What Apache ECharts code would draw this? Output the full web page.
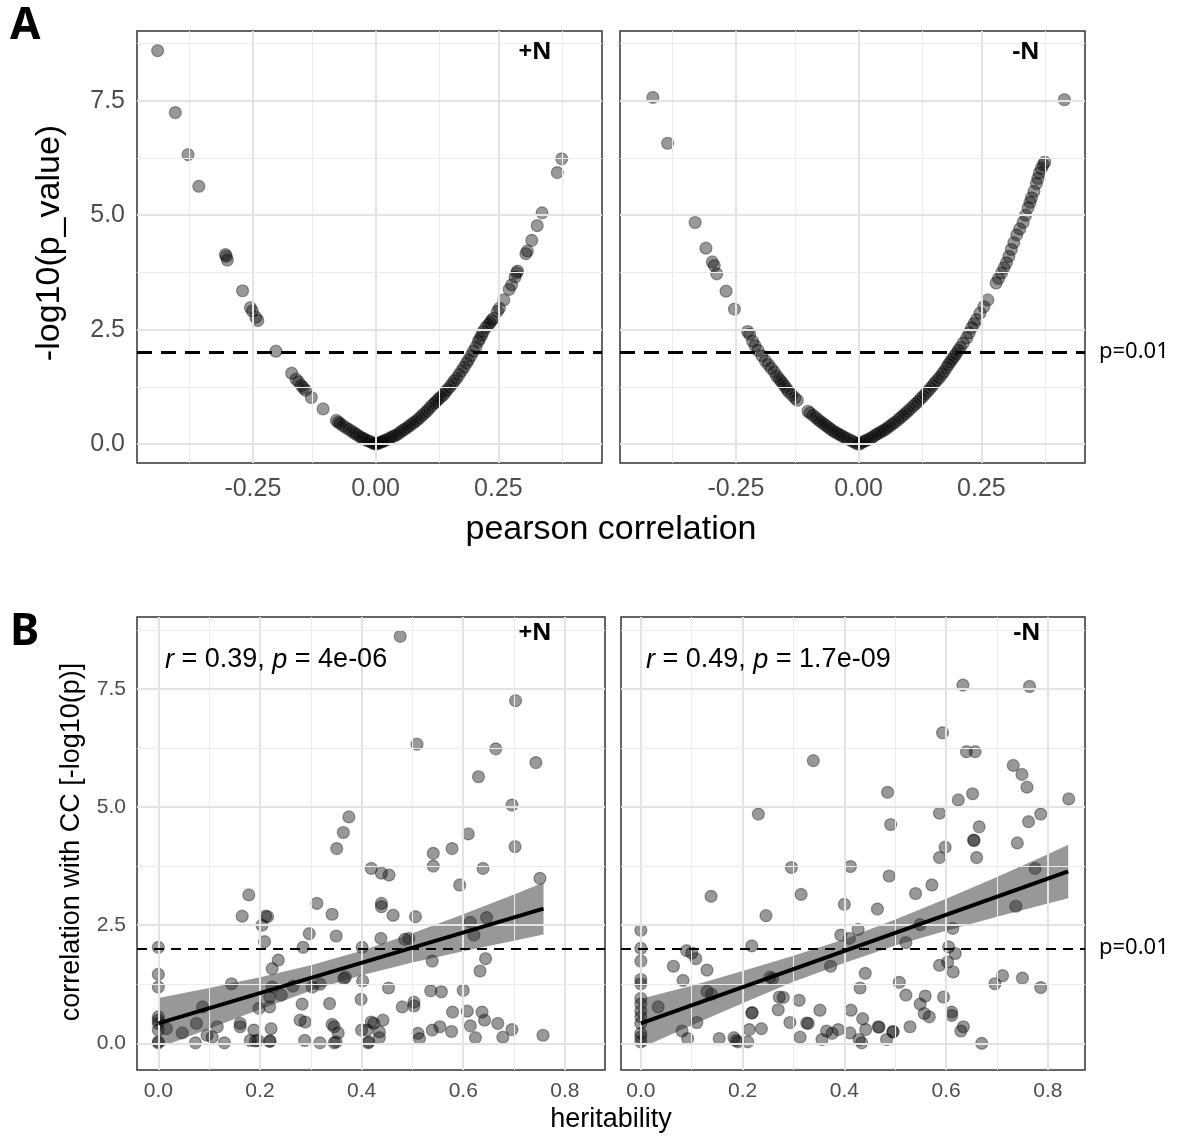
<!DOCTYPE html>
<html><head><meta charset="utf-8">
<script src="https://cdn.jsdelivr.net/npm/echarts@6/dist/echarts.min.js"></script>
<style>html,body{margin:0;padding:0;background:#fff}#c{width:1181px;height:1137px}</style>
</head><body><div id="c"></div>
<script>
// Panel A (+N): [pearson correlation, -log10(p)]
const aPlusN = [[-0.444,8.59],[-0.408,7.24],[-0.382,6.32],[-0.360,5.63],[-0.306,4.14],[-0.304,4.10],[-0.302,4.02],[-0.271,3.35],[-0.255,2.98],[-0.251,2.91],[-0.244,2.77],[-0.240,2.70],[-0.203,2.03],[-0.171,1.55],[-0.162,1.42],[-0.157,1.36],[-0.151,1.28],[-0.147,1.23],[-0.143,1.18],[-0.131,1.02],[-0.107,0.77],[-0.080,0.52],[-0.076,0.48],[-0.072,0.45],[-0.066,0.40],[-0.060,0.36],[-0.054,0.32],[-0.048,0.28],[-0.043,0.24],[-0.038,0.21],[-0.033,0.17],[-0.028,0.14],[-0.024,0.12],[-0.019,0.09],[-0.014,0.07],[-0.010,0.05],[-0.005,0.02],[-0.002,0.01],
[0.002,0.01],[0.005,0.02],[0.009,0.04],[0.013,0.05],[0.016,0.07],[0.020,0.09],[0.025,0.11],[0.030,0.14],[0.035,0.17],[0.040,0.19],[0.045,0.22],[0.050,0.26],[0.055,0.30],[0.060,0.33],[0.065,0.37],[0.070,0.41],[0.075,0.45],[0.080,0.49],[0.085,0.53],[0.090,0.58],[0.095,0.63],[0.100,0.68],[0.105,0.73],[0.110,0.79],[0.115,0.85],[0.120,0.90],[0.124,0.94],[0.128,0.99],[0.133,1.03],[0.138,1.08],[0.142,1.14],[0.146,1.19],[0.151,1.25],[0.156,1.32],[0.160,1.38],[0.165,1.44],[0.170,1.52],[0.175,1.60],[0.180,1.68],[0.185,1.77],[0.189,1.84],[0.194,1.93],[0.199,2.03],[0.204,2.12],[0.209,2.24],[0.212,2.30],[0.216,2.38],[0.219,2.46],[0.224,2.54],[0.229,2.60],[0.233,2.65],[0.236,2.70],[0.240,2.75],[0.248,2.90],[0.252,2.97],[0.261,3.15],[0.272,3.38],[0.277,3.48],[0.284,3.65],[0.287,3.74],[0.289,3.78],[0.306,4.16],[0.309,4.22],[0.318,4.45],[0.329,4.77],[0.339,5.05],[0.370,5.93],[0.379,6.23]];
// Panel A (-N)
const aMinusN = [[-0.419,7.57],[-0.389,6.57],[-0.333,4.84],[-0.311,4.28],[-0.298,3.98],[-0.294,3.90],[-0.289,3.72],[-0.270,3.34],[-0.253,2.95],[-0.226,2.46],[-0.222,2.40],[-0.216,2.25],[-0.211,2.15],[-0.205,2.05],[-0.197,1.93],[-0.190,1.82],[-0.184,1.74],[-0.178,1.66],[-0.172,1.58],[-0.167,1.49],[-0.162,1.43],[-0.158,1.37],[-0.154,1.32],[-0.150,1.26],[-0.146,1.20],[-0.142,1.14],[-0.136,1.08],[-0.130,1.01],[-0.125,0.96],[-0.103,0.72],[-0.099,0.68],[-0.093,0.63],[-0.087,0.58],[-0.082,0.53],[-0.077,0.49],[-0.072,0.45],[-0.067,0.41],[-0.062,0.37],[-0.057,0.33],[-0.052,0.29],[-0.047,0.26],[-0.042,0.23],[-0.037,0.20],[-0.032,0.17],[-0.027,0.14],[-0.021,0.11],[-0.015,0.08],[-0.010,0.05],[-0.005,0.02],[0.000,0.00],
[0.004,0.02],[0.009,0.05],[0.014,0.08],[0.019,0.10],[0.024,0.13],[0.029,0.16],[0.034,0.20],[0.039,0.23],[0.044,0.26],[0.049,0.29],[0.054,0.32],[0.059,0.36],[0.064,0.40],[0.069,0.44],[0.074,0.48],[0.080,0.53],[0.085,0.58],[0.090,0.62],[0.095,0.67],[0.100,0.72],[0.105,0.77],[0.111,0.83],[0.116,0.88],[0.121,0.93],[0.126,0.99],[0.131,1.04],[0.136,1.10],[0.141,1.16],[0.146,1.22],[0.151,1.28],[0.155,1.34],[0.160,1.40],[0.165,1.46],[0.170,1.53],[0.174,1.59],[0.179,1.67],[0.183,1.74],[0.187,1.80],[0.191,1.86],[0.195,1.92],[0.199,1.98],[0.203,2.05],[0.207,2.11],[0.213,2.21],[0.220,2.32],[0.225,2.43],[0.230,2.54],[0.235,2.63],[0.240,2.72],[0.247,2.86],[0.255,3.00],[0.263,3.15],[0.280,3.52],[0.285,3.62],[0.291,3.74],[0.296,3.85],[0.301,3.96],[0.306,4.10],[0.311,4.25],[0.316,4.40],[0.322,4.57],[0.328,4.70],[0.335,4.84],[0.340,5.00],[0.345,5.16],[0.349,5.28],[0.352,5.38],[0.357,5.52],[0.362,5.69],[0.365,5.80],[0.368,5.92],[0.372,6.02],[0.376,6.10],[0.379,6.16],[0.419,7.52]];
// Panel B (+N): [heritability, -log10(p)]
const bPlusN = [[0.476,8.61],[0.703,7.25],[0.509,6.33],[0.664,6.23],[0.743,5.94],[0.630,5.64],[0.696,5.04],[0.375,4.79],[0.364,4.46],[0.351,4.12],[0.610,4.43],[0.578,4.12],[0.541,4.02],[0.702,4.16],
[0.541,3.75],[0.639,3.70],[0.419,3.70],[0.439,3.60],[0.454,3.56],[0.593,3.35],[0.751,3.49],[0.178,3.14],[0.312,2.96],[0.439,2.96],[0.439,2.89],[0.165,2.69],[0.211,2.69],[0.215,2.68],[0.342,2.73],[0.462,2.71],[0.506,2.68],[0.646,2.66],[0.614,2.56],[0.204,2.50],[0.297,2.32],[0.350,2.27],[0.621,2.29],[0.438,2.22],[0.485,2.20],[0.493,2.22],[0.209,2.15],[0.285,2.03],[0.401,2.03],[0.000,2.03],[0.644,1.79],[0.236,1.76],[0.539,1.74],[0.224,1.58],[0.633,1.53],[0.000,1.46],[0.368,1.40],[0.365,1.37],[0.402,1.32],[0.144,1.26],[0.318,1.25],[0.265,1.21],[0.303,1.19],[0.224,1.19],[0.000,1.19],[0.453,1.17],[0.600,1.12],[0.536,1.11],[0.557,1.09],[0.242,1.02],[0.219,0.98],[0.399,0.93],[0.503,0.87],[0.337,0.84],[0.283,0.83],[0.503,0.79],[0.087,0.77],[0.219,0.77],[0.480,0.77],[0.198,0.74],[0.608,0.68],[0.579,0.66],[0.637,0.66],[0.000,0.56],[0.000,0.49],[0.279,0.49],[0.442,0.49],[0.642,0.49],[0.289,0.45],[0.419,0.45],[0.075,0.42],[0.000,0.42],[0.161,0.42],[0.424,0.42],[0.668,0.42],[0.342,0.40],[0.614,0.37],[0.116,0.35],[0.161,0.35],[0.346,0.35],[0.554,0.35],[0.016,0.31],[0.222,0.31],[0.696,0.29],[0.000,0.28],[0.188,0.28],[0.400,0.28],[0.411,0.28],[0.539,0.28],[0.577,0.25],[0.435,0.24],[0.047,0.22],[0.354,0.22],[0.511,0.21],[0.096,0.17],[0.757,0.17],[0.106,0.13],[0.678,0.13],[0.435,0.12],[0.624,0.12],[0.514,0.10],[0.181,0.06],[0.196,0.06],[0.288,0.06],[0.191,0.05],[0.220,0.05],[0.219,0.04],[0.000,0.03],[0.350,0.03],[0.414,0.03],[0.000,0.01],[0.130,0.01],[0.318,0.01],[0.073,0.01],[0.346,0.01],[0.413,0.01]];
// Panel B (-N)
const bMinusN = [[0.633,7.58],[0.764,7.55],[0.593,6.57],[0.339,5.98],[0.640,6.17],[0.657,6.17],[0.732,5.88],[0.749,5.69],[0.759,5.42],[0.485,5.31],[0.624,5.15],[0.652,5.28],[0.841,5.17],[0.231,4.85],[0.587,4.87],[0.491,4.63],[0.786,4.85],[0.762,4.69],[0.665,4.58],[0.654,4.30],[0.655,4.29],[0.740,4.24],[0.598,4.15],[0.587,3.93],[0.660,3.93],[0.296,3.72],[0.412,3.74],[0.775,3.70],[0.488,3.54],[0.138,3.11],[0.315,3.15],[0.540,3.17],[0.572,3.35],[0.400,2.94],[0.465,2.84],[0.737,2.90],[0.246,2.70],
[0.000,2.39],[0.000,2.01],[0.000,1.74],[0.000,1.35],[0.000,1.26],[0.000,0.95],[0.000,0.83],[0.000,0.68],[0.000,0.56],[0.000,0.42],[0.000,0.21],[0.000,0.13],[0.000,0.03],[0.064,1.63],[0.083,1.33],[0.090,1.96],[0.100,1.91],[0.108,1.79],[0.130,1.55],[0.130,1.10],[0.139,1.04],[0.034,0.77],[0.110,0.44],[0.081,0.26],[0.092,0.10],[0.154,0.10],[0.183,0.12],[0.191,0.03],[0.187,0.06],[0.210,0.03],[0.213,0.29],[0.237,0.31],[0.218,0.64],[0.219,0.65],[0.218,2.06],[0.254,1.40],[0.259,1.37],[0.272,0.98],[0.280,0.97],[0.270,0.71],[0.293,0.44],[0.311,0.91],[0.313,0.13],[0.326,0.43],[0.329,0.42],[0.352,0.70],[0.356,0.08],[0.365,0.26],[0.376,0.21],[0.388,0.29],[0.373,1.63],[0.393,2.29],[0.410,2.22],[0.427,2.41],[0.413,0.70],[0.411,0.22],[0.429,0.08],[0.436,0.52],[0.434,0.01],[0.442,0.29],[0.431,1.17],[0.441,1.48],[0.467,0.35],[0.468,0.34],[0.495,0.24],[0.496,0.25],[0.483,0.08],[0.508,1.29],[0.521,1.02],[0.521,2.13],[0.529,0.35],[0.549,2.51],[0.549,0.83],[0.559,1.00],[0.557,0.63],[0.567,0.56],[0.587,1.65],[0.603,1.72],[0.595,0.98],[0.605,2.04],[0.618,1.90],[0.613,2.43],[0.614,1.51],[0.611,0.66],[0.611,0.59],[0.629,0.26],[0.634,0.35],[0.670,0.00],[0.696,1.26],[0.711,1.43],[0.750,1.38],[0.786,1.18]];

// Linear fits with confidence band
const fitPlusLine = [[0,0.42],[0.758,2.85]];
const fitPlusX  = [0, 0.1, 0.2, 0.3, 0.4, 0.5, 0.6, 0.7, 0.758];
const fitPlusLo = [-0.10, 0.31, 0.72, 1.11, 1.44, 1.71, 1.95, 2.17, 2.30];
const fitPlusHi = [0.96, 1.17, 1.40, 1.65, 1.96, 2.33, 2.73, 3.15, 3.40];
const fitMinusLine = [[0,0.42],[0.84,3.64]];
const fitMinusX  = [0, 0.1, 0.2, 0.3, 0.4, 0.5, 0.6, 0.7, 0.8, 0.84];
const fitMinusLo = [-0.10, 0.38, 0.85, 1.30, 1.70, 2.07, 2.38, 2.68, 2.96, 3.07];
const fitMinusHi = [0.94, 1.22, 1.53, 1.85, 2.20, 2.62, 3.06, 3.52, 4.00, 4.20];

const yTicks = [0, 2.5, 5, 7.5];
const yMinor = [1.25, 3.75, 6.25, 8.75];
const aXTicks = [-0.25, 0, 0.25];
const aXMinor = [-0.375, -0.125, 0.125, 0.375];
const bXTicks = [0, 0.2, 0.4, 0.6, 0.8];
const bXMinor = [0.1, 0.3, 0.5, 0.7];
const pLine = 2; // -log10(0.01)

const chart = echarts.init(document.getElementById('c'), null, {renderer:'canvas'});
const FONT = 'Liberation Sans';
const grids = [
  {left:137, top:31, width:465, height:432},
  {left:620, top:31, width:465, height:432},
  {left:137, top:617, width:468, height:453},
  {left:621, top:617, width:464, height:453}
].map(g => Object.assign(g, {show:true, borderColor:'#333', borderWidth:1.5, backgroundColor:'#fff'}));

function xAx(i, min, max, ticks, dec, fs, margin, tlen) {
  return {type:'value', gridIndex:i, min:min, max:max, axisLine:{show:false}, splitLine:{show:false},
    axisTick:{show:true, customValues:ticks, length:tlen, lineStyle:{color:'#333', width:1.5}},
    axisLabel:{show:true, customValues:ticks, formatter:v=>Number(v).toFixed(dec), fontSize:fs, color:'#4d4d4d', fontFamily:FONT, margin:margin}};
}
function yAx(i, min, max, show, fs, margin, tlen) {
  return {type:'value', gridIndex:i, min:min, max:max, axisLine:{show:false}, splitLine:{show:false},
    axisTick:{show:show, customValues:yTicks, length:tlen, lineStyle:{color:'#333', width:1.5}},
    axisLabel:{show:show, customValues:yTicks, formatter:v=>Number(v).toFixed(1), fontSize:fs, color:'#4d4d4d', fontFamily:FONT, margin:margin}};
}
const xAxes = [
  xAx(0, -0.486, 0.461, aXTicks, 2, 25, 14, 7),
  xAx(1, -0.486, 0.461, aXTicks, 2, 25, 14, 7),
  xAx(2, -0.042, 0.879, bXTicks, 1, 21, 11, 6),
  xAx(3, -0.039, 0.873, bXTicks, 1, 21, 11, 6)
];
const yAxes = [
  yAx(0, -0.41, 9.02, true, 25, 12, 7),
  yAx(1, -0.41, 9.02, false, 25, 12, 7),
  yAx(2, -0.565, 9.02, true, 21, 11, 6),
  yAx(3, -0.565, 9.02, false, 21, 11, 6)
];

function gridLines(i, xMaj, xMin) {
  const major = {color:'#e3e3e3', width:2, type:'solid'};
  const minor = {color:'#ebebeb', width:1, type:'solid'};
  const d = [];
  xMaj.forEach(v => d.push({xAxis:v, lineStyle:major}));
  xMin.forEach(v => d.push({xAxis:v, lineStyle:minor}));
  yTicks.forEach(v => d.push({yAxis:v, lineStyle:major}));
  yMinor.forEach(v => d.push({yAxis:v, lineStyle:minor}));
  return {type:'line', xAxisIndex:i, yAxisIndex:i, data:[], z:1, silent:true,
    markLine:{silent:true, symbol:['none','none'], label:{show:false}, animation:false, data:d}};
}
function hline(i, w, dash) {
  return {type:'line', xAxisIndex:i, yAxisIndex:i, data:[], z:10, silent:true,
    markLine:{silent:true, symbol:['none','none'], label:{show:false}, animation:false,
      data:[{yAxis:pLine, lineStyle:{color:'#000', width:w, type:dash}}]}};
}
function pts(i, data, size) {
  return {type:'scatter', xAxisIndex:i, yAxisIndex:i, data:data, symbolSize:size, z:3, silent:true,
    itemStyle:{color:'rgba(0,0,0,0.5)', borderColor:'rgba(0,0,0,0.45)', borderWidth:1.2}, animation:false};
}
function band(i, xs, lo, hi) {
  return {type:'custom', xAxisIndex:i, yAxisIndex:i, data:[[xs[0], lo[0]]], z:4, silent:true, animation:false,
    renderItem:(params, api) => {
      const p = [];
      for (let k = 0; k < xs.length; k++) p.push(api.coord([xs[k], hi[k]]));
      for (let k = xs.length - 1; k >= 0; k--) p.push(api.coord([xs[k], lo[k]]));
      return {type:'polygon', shape:{points:p}, style:{fill:'rgba(40,40,40,0.48)', stroke:null}};
    }};
}
function fit(i, data) {
  return {type:'line', xAxisIndex:i, yAxisIndex:i, data:data, symbol:'none', z:5, silent:true, animation:false,
    lineStyle:{color:'#000', width:4}};
}

const series = [
  gridLines(0, aXTicks, aXMinor), gridLines(1, aXTicks, aXMinor),
  gridLines(2, bXTicks, bXMinor), gridLines(3, bXTicks, bXMinor),
  pts(0, aPlusN, 12), pts(1, aMinusN, 12), pts(2, bPlusN, 12), pts(3, bMinusN, 12),
  band(2, fitPlusX, fitPlusLo, fitPlusHi), band(3, fitMinusX, fitMinusLo, fitMinusHi),
  fit(2, fitPlusLine), fit(3, fitMinusLine),
  hline(0, 3, [15,9]), hline(1, 3, [15,9]), hline(2, 2, [10,7]), hline(3, 2, [10,7])
];

const txt = (x, y, text, font, align, vAlign, extra) => Object.assign({type:'text', x:x, y:y, z:100,
  style:Object.assign({text:text, font:font, fill:'#000', textAlign:align, textVerticalAlign:vAlign}, extra||{})});
const graphic = [
  txt(10, 26, 'A', 'bold 44px "Noto Sans"', 'left', 'middle'),
  txt(10, 632, 'B', 'bold 44px "Noto Sans"', 'left', 'middle'),
  txt(535, 52, '+N', 'bold 24px "Noto Sans"', 'center', 'middle'),
  txt(1026, 52, '-N', 'bold 24px "Noto Sans"', 'center', 'middle'),
  txt(535, 633, '+N', 'bold 24px "Noto Sans"', 'center', 'middle'),
  txt(1027, 633, '-N', 'bold 24px "Noto Sans"', 'center', 'middle'),
  txt(1099, 352, 'p=0.01', '22px "Noto Sans"', 'left', 'middle'),
  txt(1099, 948, 'p=0.01', '22px "Noto Sans"', 'left', 'middle'),
  txt(611, 530, 'pearson correlation', '34px "Liberation Sans"', 'center', 'middle'),
  txt(611, 1120, 'heritability', '27px "Liberation Sans"', 'center', 'middle'),
  Object.assign(txt(0, 0, '-log10(p_value)', '34px "Liberation Sans"', 'center', 'middle'), {x:50, y:243, rotation:Math.PI/2}),
  Object.assign(txt(0, 0, 'correlation with CC [-log10(p)]', '27px "Liberation Sans"', 'center', 'middle'), {x:72, y:842, rotation:Math.PI/2}),
  txt(165, 660, '{i|r} = 0.39, {i|p} = 4e-06', '27px "Liberation Sans"', 'left', 'middle',
      {rich:{i:{fontStyle:'italic', fontSize:27, fontFamily:FONT}}}),
  txt(646, 660, '{i|r} = 0.49, {i|p} = 1.7e-09', '27px "Liberation Sans"', 'left', 'middle',
      {rich:{i:{fontStyle:'italic', fontSize:27, fontFamily:FONT}}})
];

chart.setOption({animation:false, backgroundColor:'#fff', grid:grids, xAxis:xAxes, yAxis:yAxes, series:series, graphic:graphic});
</script></body></html>
